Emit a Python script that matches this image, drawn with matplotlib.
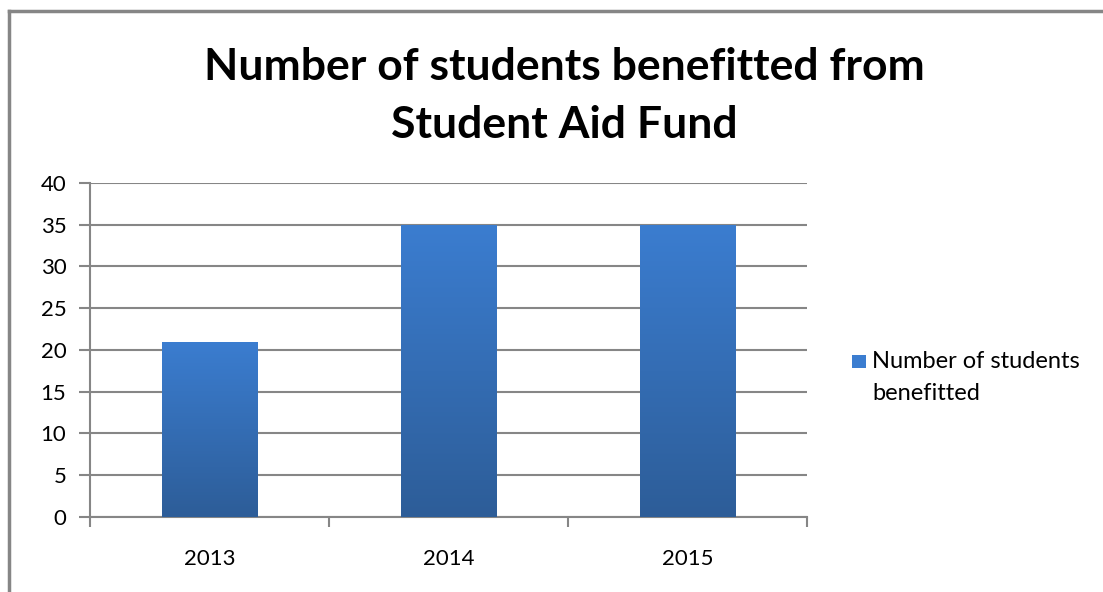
import numpy as np
import matplotlib.pyplot as plt
from matplotlib.lines import Line2D
from matplotlib.patches import Rectangle
from matplotlib.colors import LinearSegmentedColormap

years = ["2013", "2014", "2015"]
students = [21, 35, 35]
series_name = "Number of students\nbenefitted"
title = "Number of students benefitted from\nStudent Aid Fund"

plt.rcParams['font.family'] = ['Lato', 'DejaVu Sans']

fig = plt.figure(figsize=(11.03, 5.92), dpi=100)
ax = fig.add_axes([0.0816, 0.1267, 0.65, 0.5642])

grid_c = "#868686"
top_c = "#3b7dd0"
bot_c = "#2d5d98"
cmap = LinearSegmentedColormap.from_list("barfill", [bot_c, top_c])

x = np.arange(len(years))
bars = ax.bar(x, students, width=0.4, color=top_c, zorder=3)

# vertical gradient fill clipped to each bar
grad = np.linspace(0, 1, 256).reshape(-1, 1)
for b in bars:
    x0, y0 = b.get_x(), b.get_y()
    w, h = b.get_width(), b.get_height()
    im = ax.imshow(grad, cmap=cmap, origin="lower", aspect="auto",
                   extent=(x0, x0 + w, y0, y0 + h), zorder=4)
    im.set_clip_path(b)

ax.set_xlim(-0.5, len(years) - 0.5)
ax.set_ylim(0, 40)
ax.set_yticks(np.arange(0, 41, 5))
ax.yaxis.grid(True, color=grid_c, linewidth=1.5, zorder=0)
ax.set_axisbelow(True)

# category boundaries carry the tick marks, labels sit in the middle
ax.set_xticks(np.arange(-0.5, len(years), 1.0))
ax.set_xticklabels([])
ax.set_xticks(x, minor=True)
ax.set_xticklabels(years, minor=True)
ax.tick_params(axis="x", which="major", length=7, width=1.5, color=grid_c)
ax.tick_params(axis="x", which="minor", length=0, pad=23, labelsize=16)
ax.tick_params(axis="y", length=8, width=1.5, color=grid_c, labelsize=16, pad=9)

for s in ["top", "right"]:
    ax.spines[s].set_visible(False)
for s in ["left", "bottom"]:
    ax.spines[s].set_color(grid_c)
    ax.spines[s].set_linewidth(1.5)

fig.text(0.512, 0.838, title, ha="center", va="center", fontsize=32,
         fontweight="bold", linespacing=1.55)

# legend: swatch aligned with the first line of the label
fig.add_artist(Rectangle((0.7725, 0.378), 0.0127, 0.0225, transform=fig.transFigure,
                         facecolor=top_c, edgecolor="none"))
fig.text(0.7905, 0.407, series_name, ha="left", va="top", fontsize=17,
         linespacing=1.65)

# chart frame (only the left and top edges are visible)
fig.add_artist(Line2D([0.0085, 0.0085], [0.0, 0.981], color=grid_c, linewidth=2.5))
fig.add_artist(Line2D([0.0085, 0.999], [0.981, 0.981], color=grid_c, linewidth=2.5))

fig.savefig("out.png", dpi=100)
